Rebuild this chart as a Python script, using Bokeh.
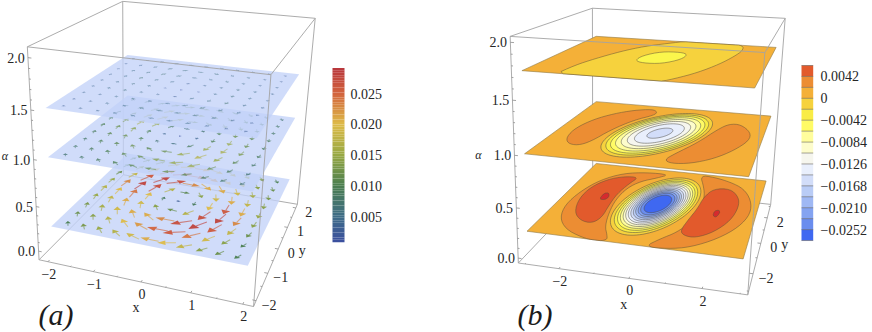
import numpy as np
from bokeh.plotting import figure
from bokeh.models import Range1d
from bokeh.core.properties import value
from bokeh.embed import file_html
from bokeh.resources import INLINE

# ---------- values ----------
grid_x = [-1.75,-1.4,-1.05,-.7,-.35,0,.35,.7,1.05,1.4,1.75]
grid_y = [-1.76,-1.32,-.88,-.44,0,.44,.88,1.32,1.76]
heading = [
 [117,122,130,141,158,180,-158,-141,-130,-122,-117],
 [111,115,122,133,152,180,-152,-133,-122,-115,-111],
 [104,108,113,122,141,180,-141,-122,-113,-108,-104],
 [97,99,102,107,122,170,-122,-107,-102,-99,-97],
 [90,90,90,90,90,20,-90,-90,-90,-90,-90],
 [83,81,78,73,58,0,-58,-73,-78,-81,-83],
 [76,72,67,58,39,0,-39,-58,-67,-72,-76],
 [69,65,58,47,28,0,-28,-47,-58,-65,-69],
 [63,58,50,39,22,0,-22,-39,-50,-58,-63]]
speed_low = [
 [10,13,15,17,19,21,20,18,14,12,10],
 [12,14,17,20,22,25,26,24,19,14,10],
 [13,16,19,21,21,23,27,28,26,18,12],
 [15,18,21,19,14,12,17,27,28,23,14],
 [17,20,24,20,9,3,9,20,26,21,15],
 [15,23,28,27,17,11,14,19,21,18,14],
 [12,18,26,28,27,23,21,21,19,16,13],
 [10,14,19,24,26,25,22,20,17,14,12],
 [10,12,14,18,20,21,19,17,15,13,10]]
speed_mid = [
 [7,8,9,10,11,12,12,11,9,8,7],
 [8,9,10,11,12,14,15,15,12,9,7],
 [8,10,11,12,11,12,15,17,15,11,8],
 [9,11,12,10,7,6,9,15,16,13,9],
 [10,12,14,10,4,1,4,10,15,12,9],
 [9,13,16,15,9,6,7,10,12,11,9],
 [8,11,15,17,15,12,11,12,11,10,8],
 [7,9,12,15,15,14,12,11,10,9,8],
 [7,8,9,11,12,12,11,10,9,8,7]]
speed_top = [
 [3,4,4,5,5,5,5,5,4,3,3],
 [3,4,5,5,6,6,6,6,5,4,3],
 [4,4,5,6,5,5,6,7,6,5,3],
 [4,5,6,5,4,3,5,6,7,5,4],
 [4,5,6,5,2,1,2,5,6,5,4],
 [4,5,7,6,5,3,4,5,6,5,4],
 [3,5,6,7,6,5,5,6,5,4,4],
 [3,4,5,6,6,6,6,5,5,4,3],
 [3,3,4,5,5,5,5,5,4,4,3]]
alpha_a = [.25,1.,1.5]
alpha_b = [.25,1.,1.75]
cbar_a_ticks = [.005,.010,.015,.020,.025]
cbar_a_labels = ["0.005","0.010","0.015","0.020","0.025"]
cbar_b_levels = [.0063,.0042,.0021,0,-.0021,-.0042,-.0063,-.0084,-.0105,-.0126,-.0147,-.0168,-.0189,-.0210,-.0231,-.0252,-.0273]
cbar_b_ticks = [.0042,0,-.0042,-.0084,-.0126,-.0168,-.0210,-.0252]
cbar_b_labels = ["0.0042","0","\u22120.0042","\u22120.0084","\u22120.0126","\u22120.0168","\u22120.0210","\u22120.0252"]
band_colors = ["#E25A2C","#EC8D33","#F4B038","#F6D23D","#F9EC45","#FFFB66","#FFFD9C","#FDFCCB","#F6F6EE","#E9EFFC",
               "#D2DDF9","#B9CCF6","#9FB8F4","#84A3F1","#6A8DEE","#3F68F1"]
spot_color = "#D62A2E"
# contour outlines on the alpha planes of panel (b), in (x, y)
low_crescent_l = [(-.26,2.64),(-1.03,2.62),(-1.78,2.31),(-2.34,1.45),(-2.62,.26),(-2.68,-.9),(-2.47,-1.87),(-2.03,-2.56),(-1.45,-2.93),(-.97,-3.06),(-.71,-2.91),(-.8,-2.62),(-1.04,-2.06),(-1.23,-1.09),(-1.34,-.05),(-1.28,1.0),(-1.02,1.72),(-.57,2.2)]
low_crescent_r = [(.37,-3.01),(.98,-2.98),(1.55,-2.71),(2.16,-1.99),(2.62,-1.04),(2.83,.03),(2.72,1.1),(2.37,2.04),(1.86,2.53),(1.25,2.84),(.78,2.87),(1.09,1.81),(1.27,.95),(1.35,-.15),(1.23,-1.09),(1.01,-1.87),(.66,-2.43)]
low_lobe_l = [(-1.18,2.09),(-1.69,2.0),(-2.13,1.56),(-2.43,.73),(-2.45,-.33),(-2.21,-1.36),(-1.84,-1.88),(-1.46,-1.97),(-1.32,-1.48),(-1.4,-.58),(-1.44,.42),(-1.33,1.38)]
low_lobe_r = [(1.43,1.75),(1.95,1.91),(2.31,1.26),(2.42,.44),(2.33,-.64),(1.99,-1.58),(1.57,-2.09),(1.23,-2.04),(1.07,-1.74),(1.14,-.87),(1.23,-.06),(1.25,.94)]
low_spot_l = [(-1.84,-.15),(-1.85,.35),(-1.71,.43),(-1.6,.07),(-1.67,-.18)]
low_spot_r = [(1.77,-.43),(1.76,-.07),(1.88,.05),(1.94,-.17),(1.88,-.54)]
mid_blob_l = [(-.66,2.34),(-.9,2.61),(-1.45,2.29),(-1.95,1.67),(-2.35,.82),(-2.56,-.26),(-2.49,-1.2),(-2.25,-1.77),(-1.91,-1.88),(-1.68,-1.42),(-1.49,-.15),(-1.12,1.13),(-.66,1.91)]
mid_blob_r = [(1.83,1.63),(2.19,1.68),(2.59,.89),(2.64,.05),(2.35,-.99),(1.94,-1.86),(1.42,-2.44),(.93,-2.6),(.69,-2.36),(.84,-1.8),(1.25,-.59),(1.58,.91)]
top_band = [(-2.05,-3.3),(-1.97,-1.89),(-1.77,-.83),(-1.41,.58),(-.98,1.67),(-.42,2.48),(.13,3.2),(.9,3.2),(1.55,3.1),(1.96,2.95),(2.06,2.04),(1.95,.96),(1.72,-.37),(1.36,-1.69),(.95,-2.63),(.55,-3.3)]
top_core = [(-.63,-.65),(-.62,.15),(-.25,.97),(.32,1.08),(.59,.78),(.57,-.04),(.19,-.84),(-.32,-.94)]
low_ring_major = [2.47,2.28,2.12,1.98,1.84,1.71,1.58,1.45,1.32,1.2,1.07,.94,.76]
mid_ring_major = [2.56,2.36,2.17,1.96,1.72,1.46,1.15,.6]

# ---------- camera calibration of each 3D box ----------
cam_a = [((-2.2,-2.2,-.1),(37.7,260)),((2.2,-2.2,-.1),(251.7,306)),((2.2,2.2,-.1),(300,201.7)),
 ((-2.2,-2.2,2.1),(25.7,44)),((2.2,-2.2,2.1),(268.3,72.7)),((2.2,2.2,2.1),(315,18.3)),((-2.2,2.2,2.1),(124,.7)),
 ((-2,-2,.25),(51.7,226)),((2,-2,.25),(245,264.3)),((2,2,.25),(289.3,178.3)),
 ((-2,-2,1),(48.3,156.7)),((2,-2,1),(251.7,196.7)),((2,2,1),(294,116.7)),((-2,2,1),(125,96)),
 ((-2,-2,1.5),(48.3,107.3)),((2,-2,1.5),(260,136.7)),((2,2,1.5),(297.7,75)),((-2,2,1.5),(125,55))]
cam_b = [((-3.2,-3.2,-.05),(520,261.7)),((3.2,-3.2,-.05),(746,293.3)),((3.2,3.2,-.05),(768.3,204)),
 ((-3.2,-3.2,2.05),(511.7,36)),((3.2,-3.2,2.05),(760,52)),((3.2,3.2,2.05),(782.7,18.3)),((-3.2,3.2,2.05),(593.3,8.3)),
 ((-3,-3,.25),(525,231)),((3,-3,.25),(742.3,259.3)),((3,3,.25),(767.7,180.7)),((-3,3,.25),(595,163.3)),
 ((-3,-3,1),(522.7,154)),((3,-3,1),(750.7,176.7)),((3,3,1),(771.7,115.7)),((-3,3,1),(596,101)),
 ((-3,-3,1.75),(519.3,70)),((3,-3,1.75),(758.3,87.3)),((3,3,1.75),(776,46)),((-3,3,1.75),(595,35))]

def fit(Z):
    A=[];B=[]
    for (x,y,z),(u,v) in Z:
        A.append([x,y,z,1,0,0,0,0,-u*x,-u*y,-u*z]);B.append(u)
        A.append([0,0,0,0,x,y,z,1,-v*x,-v*y,-v*z]);B.append(v)
    s=np.linalg.lstsq(np.array(A,float),np.array(B,float),rcond=None)[0]
    return np.append(s,1).reshape(3,4)
Pa, Pb = fit(cam_a), fit(cam_b)
def proj(P,x,y,z):
    x,y=np.asarray(x,float),np.asarray(y,float); z=np.full_like(x,z) if np.ndim(z)==0 else np.asarray(z,float)
    X=np.stack([x,y,z,np.ones_like(x)])
    w=P@X
    return w[0]/w[2],w[1]/w[2]

p = figure(width=872,height=332,x_range=Range1d(0,872),y_range=Range1d(332,0),x_axis_type=None,y_axis_type=None,
           toolbar_location=None,output_backend="svg",min_border=0,outline_line_color=None)
p.grid.visible=False
SERIF=value("Liberation Serif")
TICK=dict(text_font=SERIF,text_font_size="14px",text_align="center",text_baseline="middle",text_color="#262626")

def edges(P,B,zlo,zhi,which):
    c=[(-B,-B),(B,-B),(B,B),(-B,B)]
    xs=[];ys=[]
    def add(a,b):
        u,v=proj(P,[a[0],b[0]],[a[1],b[1]],[a[2],b[2]]); xs.append(u);ys.append(v)
    if which=="back":
        for i in range(4): add((*c[i],zlo),(*c[(i+1)%4],zlo))
        add((-B,B,zlo),(-B,B,zhi))
    else:
        for i in range(4): add((*c[i],zhi),(*c[(i+1)%4],zhi))
        for i in range(3): add((*c[i],zlo),(*c[i],zhi))
    p.multi_line(xs,ys,line_color="#a3a3a3",line_width=1,line_alpha=.9)

def axes3d(P,B,zlo,xmaj,xmin,amaj,amin,xlab,alab,tl):
    xs=[];ys=[]
    for t,ln in [(t,tl) for t in xmaj]+[(t,tl/2) for t in xmin]:
        u,v=proj(P,[t,t],[-B,-B+ln],[zlo,zlo]); xs.append(u);ys.append(v)
        u,v=proj(P,[B,B-ln],[t,t],[zlo,zlo]); xs.append(u);ys.append(v)
    for t,ln in [(t,tl) for t in amaj]+[(t,tl/2) for t in amin]:
        u,v=proj(P,[-B,-B+ln],[-B,-B],[t,t]); xs.append(u);ys.append(v)
    p.multi_line(xs,ys,line_color="#8c8c8c",line_width=.8)
    tv=np.array(xmaj,float)
    u,v=proj(P,tv,np.full_like(tv,-B),zlo)
    p.text(u,v,text=xlab,x_offset=1,y_offset=12,**TICK)
    u,v=proj(P,np.full_like(tv,B),tv,zlo)
    p.text(u,v,text=xlab,x_offset=13,y_offset=4,**TICK)
    av=np.array(amaj,float)
    u,v=proj(P,np.full_like(av,-B),np.full_like(av,-B),av)
    p.text(u,v,text=alab,x_offset=-12,y_offset=0,**TICK)
    u,v=proj(P,[0.],[-B],zlo)
    p.text(u,v,text=["x"],x_offset=-5,y_offset=26,**TICK)
    u,v=proj(P,[B],[0.],zlo)
    p.text(u,v,text=["y"],x_offset=24,y_offset=1,**TICK)

stops_v=[.0008,.005,.010,.015,.020,.025,.0292]
stops_c=[(59,79,159),(62,108,134),(74,126,80),(151,168,67),(221,187,72),(210,100,62),(184,54,60)]
def scol(s):
    return "#%02x%02x%02x"%tuple(int(round(np.interp(s,stops_v,[c[i] for c in stops_c]))) for i in range(3))

def smooth(pts,n=2):
    a=np.array(pts,float)
    for _ in range(n):
        b=np.roll(a,-1,axis=0)
        a=np.stack([.75*a+.25*b,.25*a+.75*b],axis=1).reshape(-1,2)
    return np.clip(a,-3,3)

# ---------- panel (a) ----------
axes_maj_a=[-2,-1,0,1,2]
edges(Pa,2.2,-.1,2.1,"back")
for level,table,fade in zip(alpha_a,[speed_low,speed_mid,speed_top],[1.,.8,.55]):
    u,v=proj(Pa,[-2,2,2,-2],[-2,-2,2,2],level)
    p.patch(u,v,fill_color="#C2D2F8",fill_alpha=.77,line_color=None)
    sx=[];sy=[];hx=[];hy=[];cols=[]
    for j,gy in enumerate(grid_y):
        for i,gx in enumerate(grid_x):
            s=table[j][i]/1000; th=np.radians(heading[j][i])
            L=.04+16*s
            dx,dy=np.cos(th),np.sin(th)
            x0,y0=gx-dx*L/2,gy-dy*L/2; x1,y1=gx+dx*L/2,gy+dy*L/2
            hl=.04+.33*L; hw=.45*hl+.01
            u,v=proj(Pa,[x0,x1-dx*hl],[y0,y1-dy*hl],level); sx.append(u);sy.append(v)
            bx,by=x1-dx*hl,y1-dy*hl
            u,v=proj(Pa,[x1,bx-dy*hw,bx+dy*hw],[y1,by+dx*hw,by-dx*hw],level); hx.append(u);hy.append(v)
            cols.append(scol(s))
    p.multi_line(sx,sy,line_color=cols,line_width=1.05,line_alpha=.65*fade)
    p.patches(hx,hy,fill_color=cols,fill_alpha=.95*fade,line_color=None)
edges(Pa,2.2,-.1,2.1,"front")
axes3d(Pa,2.2,-.1,axes_maj_a,[-1.5,-.5,.5,1.5],[0,.5,1,1.5,2],[.1*i for i in range(1,20) if i%5],
       ["\u22122","\u22121","0","1","2"],["0.0","0.5","1.0","1.5","2.0"],.07)
p.text([4.5],[155],text=["\u03b1"],text_font=SERIF,text_font_style="italic",text_font_size="12px",text_align="center",text_baseline="middle",text_color="#262626")
p.text([38],[313.5],text=["(a)"],text_font=SERIF,text_font_style="italic",text_font_size="30px",text_align="left",text_baseline="middle",text_color="#1c1c1c")

# colour bar (a)
cb_l,cb_r,cb_t,cb_b=332,344,67.7,241.7
def cbya(val): return 216-(val-.005)/.005*30.7
vals=np.linspace(.0008,.0292,72)
p.quad(left=cb_l,right=cb_r,top=cbya(vals[1:]),bottom=cbya(vals[:-1]),fill_color=[scol(s) for s in (vals[1:]+vals[:-1])/2],line_color=None)
p.text(np.full(5,350),cbya(np.array(cbar_a_ticks)),text=cbar_a_labels,text_font=SERIF,text_font_size="14px",text_baseline="middle",text_color="#262626")

# ---------- panel (b) ----------
def plane_b(level,base):
    u,v=proj(Pb,[-3,3,3,-3],[-3,-3,3,3],level)
    p.patch(u,v,fill_color=base,line_color="#8f7a4a",line_width=.6)
def poly_b(level,pts,color,sm=2):
    a=smooth(pts,sm)
    u,v=proj(Pb,a[:,0],a[:,1],level)
    p.patch(u,v,fill_color=color,line_color="#5b5037",line_width=.7,line_alpha=.7)
def rings_b(level,majors,ratio,tilt,first_band):
    t=np.linspace(0,2*np.pi,90); th=np.radians(tilt)
    for k,a in enumerate(majors):
        ex=a*ratio*np.cos(t); ey=a*np.sin(t)
        x=ex*np.cos(th)+ey*np.sin(th); y=-ex*np.sin(th)+ey*np.cos(th)
        u,v=proj(Pb,x,y,level)
        p.patch(u,v,fill_color=band_colors[first_band+k],line_color="#4b4a44",line_width=.65,line_alpha=.8)

edges(Pb,3.2,-.05,2.05,"back")
plane_b(alpha_b[0],band_colors[2])
poly_b(alpha_b[0],low_crescent_l,band_colors[1]); poly_b(alpha_b[0],low_crescent_r,band_colors[1])
poly_b(alpha_b[0],low_lobe_l,band_colors[0]); poly_b(alpha_b[0],low_lobe_r,band_colors[0])
poly_b(alpha_b[0],low_spot_l,spot_color,1); poly_b(alpha_b[0],low_spot_r,spot_color,1)
rings_b(alpha_b[0],low_ring_major,.44,8.6,3)
plane_b(alpha_b[1],band_colors[2])
poly_b(alpha_b[1],mid_blob_l,band_colors[1]); poly_b(alpha_b[1],mid_blob_r,band_colors[1])
rings_b(alpha_b[1],mid_ring_major,.476,15.8,3)
plane_b(alpha_b[2],band_colors[2])
poly_b(alpha_b[2],top_band,band_colors[3]); poly_b(alpha_b[2],top_core,"#FBF64C")
edges(Pb,3.2,-.05,2.05,"front")
axes3d(Pb,3.2,-.05,[-2,0,2],[-3,-1,1,3],[0,.5,1,1.5,2],[.1*i for i in range(1,20) if i%5],
       ["\u22122","0","2"],["0.0","0.5","1.0","1.5","2.0"],.1)
p.text([478],[154],text=["\u03b1"],text_font=SERIF,text_font_style="italic",text_font_size="12px",text_align="center",text_baseline="middle",text_color="#262626")
p.text([517],[313.5],text=["(b)"],text_font=SERIF,text_font_style="italic",text_font_size="30px",text_align="left",text_baseline="middle",text_color="#1c1c1c")

# colour bar (b)
lv=np.array(cbar_b_levels)
def cbyb(val): return 65+(.0063-val)/.0021*10.94
p.quad(left=801,right=812.7,top=cbyb(lv[:-1]),bottom=cbyb(lv[1:]),fill_color=band_colors,line_color=None)
p.segment(x0=np.full(len(lv),801),x1=np.full(len(lv),812.7),y0=cbyb(lv),y1=cbyb(lv),line_color="#55504a",line_width=.7,line_alpha=.75)
p.text(np.full(8,820),cbyb(np.array(cbar_b_ticks)),text=cbar_b_labels,text_font=SERIF,text_font_size="14px",text_baseline="middle",text_color="#262626")

open("out.html","w").write(file_html(p,INLINE))
